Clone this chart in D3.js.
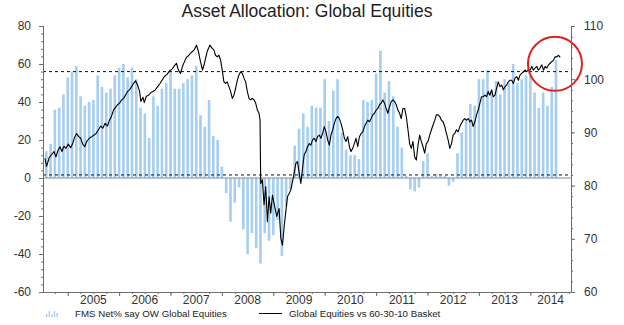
<!DOCTYPE html>
<html>
<head>
<meta charset="utf-8">
<script src="https://cdn.jsdelivr.net/npm/d3@7"></script>
<style>
  html, body { margin: 0; padding: 0; background: #fff; }
  svg { display: block; font-family: "Liberation Sans", Arial, sans-serif; }
</style>
</head>
<body>
<svg id="chart" width="624" height="325"></svg>
<script>
// Monthly FMS net % overweight global equities, starting Aug 2004
const barStart = { year: 2004, month: 7 };
const fmsNet = [
  14, 18, 36, 37, 44, 53, 56, 59, 43, 38, 40, 41,
  54, 48, 45, 47, 54, 58, 60, 53, 58, 52, 37, 34,
  21, 43, 38, 47, 50, 56, 47, 47, 50, 52, 54, 59,
  33, 27, 41, 22, 20, 6, -8, -23, -13, -5, -27, -40,
  -29, -37, -45, -29, -33, -30, -22, -41, -15, -6, 17, 26,
  34, 27, 38, 37, 37, 52, 30, 46, 52, 24, 15, 12,
  12, 10, 41, 40, 41, 55, 67, 45, 51, 43, 27, 16,
  1, -6, -7, -5, 9, 13, 1, 2, 1, 1, -4, -2,
  13, 24, 31, 39, 38, 52, 52, 57, 46, 51, 44, 52,
  50, 60, 50, 52, 54, 54, 45, 37, 45, 38, 48, 62
];

// Global equities vs 60-30-10 basket (right axis), dates as decimal years
const lineT = [
  2004.556, 2004.589, 2004.641, 2004.686, 2004.732, 2004.771, 2004.810, 2004.849, 2004.888, 2004.927, 2004.966,
  2005.012, 2005.057, 2005.096, 2005.135, 2005.174, 2005.214, 2005.253, 2005.292, 2005.331, 2005.370, 2005.422,
  2005.467, 2005.513, 2005.552, 2005.597, 2005.643, 2005.682, 2005.728, 2005.773, 2005.812, 2005.851, 2005.891,
  2005.930, 2005.969, 2006.008, 2006.047, 2006.086, 2006.125, 2006.164, 2006.203, 2006.242, 2006.281, 2006.320,
  2006.359, 2006.398, 2006.424, 2006.464, 2006.490, 2006.529, 2006.574, 2006.620, 2006.659, 2006.704, 2006.750,
  2006.789, 2006.835, 2006.880, 2006.932, 2006.984, 2007.030, 2007.075, 2007.115, 2007.154, 2007.193, 2007.232,
  2007.271, 2007.310, 2007.349, 2007.388, 2007.427, 2007.466, 2007.505, 2007.544, 2007.583, 2007.622, 2007.661,
  2007.713, 2007.765, 2007.811, 2007.843, 2007.876, 2007.909, 2007.941, 2007.974, 2008.006, 2008.039, 2008.071,
  2008.104, 2008.136, 2008.169, 2008.202, 2008.234, 2008.267, 2008.299, 2008.332, 2008.364, 2008.397, 2008.429,
  2008.462, 2008.494, 2008.527, 2008.560, 2008.592, 2008.625, 2008.657, 2008.690, 2008.722, 2008.742, 2008.755,
  2008.787, 2008.820, 2008.853, 2008.885, 2008.918, 2008.950, 2008.983, 2009.028, 2009.067, 2009.113, 2009.146,
  2009.178, 2009.211, 2009.243, 2009.276, 2009.308, 2009.341, 2009.393, 2009.439, 2009.471, 2009.504, 2009.536,
  2009.569, 2009.601, 2009.634, 2009.666, 2009.699, 2009.731, 2009.764, 2009.797, 2009.829, 2009.862, 2009.894,
  2009.927, 2009.959, 2009.992, 2010.025, 2010.057, 2010.090, 2010.122, 2010.155, 2010.187, 2010.220, 2010.252,
  2010.285, 2010.317, 2010.350, 2010.383, 2010.415, 2010.448, 2010.480, 2010.513, 2010.545, 2010.578, 2010.610,
  2010.643, 2010.675, 2010.708, 2010.741, 2010.773, 2010.806, 2010.838, 2010.871, 2010.903, 2010.936, 2010.969,
  2011.001, 2011.034, 2011.066, 2011.099, 2011.131, 2011.164, 2011.196, 2011.229, 2011.261, 2011.294, 2011.327,
  2011.359, 2011.392, 2011.424, 2011.457, 2011.489, 2011.522, 2011.555, 2011.587, 2011.620, 2011.652, 2011.685,
  2011.717, 2011.750, 2011.783, 2011.815, 2011.848, 2011.880, 2011.913, 2011.945, 2011.978, 2012.010, 2012.043,
  2012.076, 2012.108, 2012.141, 2012.173, 2012.206, 2012.238, 2012.271, 2012.303, 2012.336, 2012.368, 2012.401,
  2012.434, 2012.466, 2012.499, 2012.531, 2012.564, 2012.596, 2012.629, 2012.661, 2012.694, 2012.727, 2012.759,
  2012.792, 2012.824, 2012.857, 2012.889, 2012.922, 2012.954, 2012.987, 2013.020, 2013.052, 2013.085, 2013.117,
  2013.150, 2013.182, 2013.215, 2013.247, 2013.280, 2013.313, 2013.345, 2013.378, 2013.410, 2013.443, 2013.475,
  2013.508, 2013.540, 2013.573, 2013.605, 2013.638, 2013.671, 2013.703, 2013.736, 2013.768, 2013.801, 2013.833,
  2013.866, 2013.898, 2013.931, 2013.964, 2013.996, 2014.029, 2014.061, 2014.094, 2014.126, 2014.159, 2014.191,
  2014.224, 2014.257, 2014.289, 2014.322, 2014.354, 2014.387, 2014.419, 2014.452, 2014.484, 2014.517, 2014.549,
  2014.582
];
const lineV = [
  85.1, 83.6, 85.3, 85.8, 86.4, 85.4, 86.6, 87.3, 86.4, 87.4, 87.0,
  87.8, 87.1, 87.9, 89.1, 89.8, 89.2, 88.9, 87.8, 87.3, 88.3, 88.9,
  89.2, 89.5, 89.8, 90.5, 91.2, 90.8, 91.7, 91.2, 92.3, 93.0, 94.2,
  94.7, 95.2, 95.5, 96.1, 96.4, 97.0, 97.7, 98.0, 98.6, 99.2, 99.7,
  98.9, 97.7, 95.8, 96.6, 95.6, 96.8, 97.0, 97.5, 97.7, 98.0, 98.6,
  99.1, 99.8, 100.5, 100.9, 101.6, 101.9, 102.5, 103.0, 101.7, 101.1, 102.4,
  103.3, 104.1, 104.4, 104.9, 105.2, 105.6, 106.4, 105.2, 103.3, 101.7, 103.0,
  105.2, 106.4, 105.8, 105.5, 104.5, 104.2, 104.5, 103.6, 101.7, 99.5, 99.2,
  99.5, 98.6, 97.7, 96.4, 97.0, 98.3, 99.8, 100.8, 101.4, 101.1, 100.2,
  99.5, 97.7, 96.4, 96.1, 96.4, 96.1, 95.5, 94.2, 93.6, 92.3, 80.4,
  81.1, 76.4, 79.8, 73.2, 77.9, 74.8, 78.2, 76.0, 74.2, 75.7, 70.1,
  68.8, 72.3, 75.1, 77.9, 78.5, 79.2, 81.7, 84.2, 84.5, 82.3, 80.4,
  83.3, 85.8, 86.4, 87.3, 87.9, 87.6, 88.6, 88.9, 88.3, 89.2, 89.5,
  88.9, 89.8, 91.1, 90.1, 88.6, 87.6, 89.5, 90.5, 91.7, 92.6, 93.0,
  92.6, 91.7, 90.5, 88.9, 88.3, 89.2, 87.3, 86.4, 87.0, 87.9, 88.9,
  87.3, 89.2, 89.8, 90.1, 91.1, 91.7, 92.3, 92.0, 92.6, 93.3, 93.6,
  94.2, 94.5, 95.2, 95.5, 96.1, 95.5, 94.5, 93.6, 94.8, 95.8, 96.1,
  95.8, 95.2, 94.2, 93.6, 92.6, 94.5, 94.5, 93.0, 90.5, 87.9, 87.0,
  88.3, 85.4, 84.8, 87.6, 89.5, 88.3, 87.3, 86.1, 87.9, 88.3, 89.5,
  90.5, 91.4, 92.3, 93.3, 93.3, 93.0, 92.3, 92.0, 91.1, 89.8, 88.6,
  87.0, 87.9, 89.5, 89.8, 90.5, 90.1, 91.1, 91.7, 92.3, 92.6, 92.3,
  92.6, 92.0, 92.3, 91.1, 92.0, 93.3, 94.2, 95.5, 96.7, 96.7, 97.0,
  96.7, 97.7, 97.0, 98.0, 96.7, 97.0, 98.3, 99.5, 98.6, 98.9, 98.0,
  98.6, 98.9, 99.5, 99.8, 99.8, 99.2, 100.2, 100.5, 99.8, 100.8, 101.1,
  101.4, 101.7, 101.4, 101.8, 101.7, 102.4, 101.7, 102.1, 102.4, 101.7, 102.1,
  102.7, 101.7, 102.4, 102.1, 102.7, 103.0, 103.3, 103.6, 104.2, 104.2, 104.5,
  104.1
];

const yearLabels = [2005, 2006, 2007, 2008, 2009, 2010, 2011, 2012, 2013, 2014];
const leftTicks = [-60, -40, -20, 0, 20, 40, 60, 80];
const rightTicks = [60, 70, 80, 90, 100, 110];
const fmsReference = 56;      // left-axis dashed level
const basketReference = 82;   // right-axis dashed level
const highlight = { t: 2014.48, v: 102.9 };

const chartTitle = "Asset Allocation: Global Equities";
const legendBars = "FMS Net% say OW Global Equities";
const legendLine = "Global Equities vs 60-30-10 Basket";

const svg = d3.select("#chart");
const plot = { left: 43, right: 571, top: 26, bottom: 292 };

const x = d3.scaleLinear().domain([2004.519, 2014.792]).range([plot.left, plot.right]);
const yL = d3.scaleLinear().domain([-60, 80]).range([plot.bottom, plot.top]);
const yR = d3.scaleLinear().domain([60, 110]).range([plot.bottom, plot.top]);

const barColor = "#a5cef2";
const axisColor = "#6e6e6e";
const textColor = "#333";

// Title
svg.append("text")
  .attr("x", 307).attr("y", 17)
  .attr("text-anchor", "middle")
  .attr("font-size", "17.5px")
  .attr("fill", "#222")
  .text(chartTitle);

// Bars
const barData = fmsNet.map((v, i) => ({
  t: barStart.year + (barStart.month + i) / 12,
  v
}));
const barW = 2.6;
svg.append("g").selectAll("rect").data(barData).join("rect")
  .attr("x", d => x(d.t) - barW / 2)
  .attr("width", barW)
  .attr("y", d => Math.min(yL(d.v), yL(0)))
  .attr("height", d => Math.abs(yL(d.v) - yL(0)))
  .attr("fill", barColor);

// Zero line and dashed reference levels
svg.append("line")
  .attr("x1", plot.left).attr("x2", plot.right)
  .attr("y1", yL(0)).attr("y2", yL(0))
  .attr("stroke", "#7f8a96").attr("stroke-width", 1);
svg.append("line")
  .attr("x1", plot.left).attr("x2", plot.right)
  .attr("y1", yL(fmsReference)).attr("y2", yL(fmsReference))
  .attr("stroke", "#111").attr("stroke-width", 1)
  .attr("stroke-dasharray", "3,3");
svg.append("line")
  .attr("x1", plot.left).attr("x2", plot.right)
  .attr("y1", yR(basketReference)).attr("y2", yR(basketReference))
  .attr("stroke", "#111").attr("stroke-width", 1)
  .attr("stroke-dasharray", "3,3");

// Relative performance line
const nLine = Math.min(lineT.length, lineV.length);
const lineData = d3.range(nLine).map(i => ({ t: lineT[i], v: lineV[i] }));
svg.append("path")
  .datum(lineData)
  .attr("fill", "none")
  .attr("stroke", "#000")
  .attr("stroke-width", 1.1)
  .attr("stroke-linejoin", "round")
  .attr("d", d3.line().x(d => x(d.t)).y(d => yR(d.v)));

// Highlight circle around the latest readings
svg.append("circle")
  .attr("cx", x(highlight.t)).attr("cy", yR(highlight.v))
  .attr("r", 27)
  .attr("fill", "none")
  .attr("stroke", "#e0201b")
  .attr("stroke-width", 2);

// Axes
function styleAxis(g) {
  g.selectAll(".domain").attr("stroke", axisColor);
  g.selectAll(".tick line").attr("stroke", axisColor);
  g.selectAll(".tick text")
    .attr("fill", textColor)
    .attr("font-size", "12px")
    .attr("font-family", "'Liberation Sans', Arial, sans-serif");
}

// left minor + major
svg.append("g").attr("transform", `translate(${plot.left},0)`)
  .call(d3.axisLeft(yL).tickValues(d3.range(-60, 81, 4)).tickSize(2).tickFormat(""))
  .call(styleAxis);
svg.append("g").attr("transform", `translate(${plot.left},0)`)
  .call(d3.axisLeft(yL).tickValues(leftTicks).tickSize(4).tickPadding(8).tickFormat(d => String(d)))
  .call(styleAxis);

// right minor + major
svg.append("g").attr("transform", `translate(${plot.right},0)`)
  .call(d3.axisRight(yR).tickValues(d3.range(60, 111, 2)).tickSize(2).tickFormat(""))
  .call(styleAxis);
svg.append("g").attr("transform", `translate(${plot.right},0)`)
  .call(d3.axisRight(yR).tickValues(rightTicks).tickSize(4).tickPadding(9))
  .call(styleAxis);

// bottom: quarter ticks, year ticks, centred year labels
svg.append("g").attr("transform", `translate(0,${plot.bottom})`)
  .call(d3.axisBottom(x).tickValues(d3.range(2004.75, 2014.76, 0.25)).tickSize(2).tickFormat("").tickSizeOuter(0))
  .call(styleAxis);
svg.append("g").attr("transform", `translate(0,${plot.bottom})`)
  .call(d3.axisBottom(x).tickValues(yearLabels).tickSize(4).tickFormat("").tickSizeOuter(0))
  .call(styleAxis);
svg.append("g").selectAll("text").data(yearLabels).join("text")
  .attr("x", d => (x(d) + x(Math.min(d + 1, x.domain()[1]))) / 2)
  .attr("y", 304)
  .attr("text-anchor", "middle")
  .attr("font-size", "12px")
  .attr("fill", textColor)
  .text(d => d);

// Legend
const leg = svg.append("g");
const iconH = [3, 6, 3, 6, 4];
leg.selectAll("rect").data(iconH).join("rect")
  .attr("x", (d, i) => 46 + i * 2.6)
  .attr("y", d => 317 - d)
  .attr("width", 1.4)
  .attr("height", d => d)
  .attr("fill", barColor);
leg.append("text")
  .attr("x", 75).attr("y", 317)
  .attr("font-size", "9.7px").attr("fill", "#222")
  .text(legendBars);
leg.append("line")
  .attr("x1", 259).attr("x2", 282)
  .attr("y1", 313.5).attr("y2", 313.5)
  .attr("stroke", "#000").attr("stroke-width", 1);
leg.append("text")
  .attr("x", 289).attr("y", 317)
  .attr("font-size", "9.7px").attr("fill", "#222")
  .text(legendLine);
</script>
</body>
</html>
